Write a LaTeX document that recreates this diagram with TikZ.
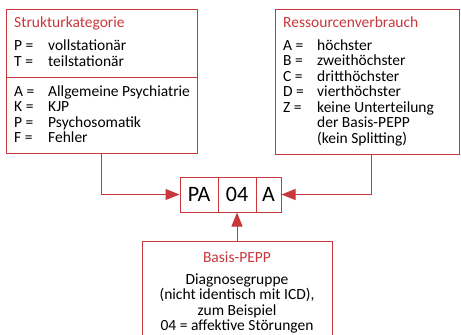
\documentclass[tikz,border=0pt]{standalone}
\usepackage{fontspec}
\setmainfont{Carlito}
\usepackage{tikz}
\usetikzlibrary{arrows.meta}
\definecolor{peppred}{RGB}{200,55,60}
\newcommand{\rcol}{peppred}
\tikzset{
  box/.style={draw=\rcol, line width=1pt, rectangle, inner sep=0pt},
  txt/.style={inner sep=0pt, font=\fontsize{15.5}{15.5}\selectfont},
  ttl/.style={txt, text=\rcol},
  codebox/.style={box, minimum height=35pt, font=\fontsize{22}{24}\selectfont},
  pfeil/.style={draw=\rcol, line width=1pt, -{Triangle[length=14pt,width=11pt]}}
}

\begin{document}
\begin{tikzpicture}[x=1pt, y=-1pt]

    \clip (0, 0) rectangle (461, 335);

    % kaesten
    \node[box, minimum width=191pt, minimum height=144pt] (strukt) at (101.5, 81) {};
    \node[box, minimum width=184.5pt, minimum height=145pt] (verbrauch) at (367.25, 81.5) {};
    \node[box, minimum width=190pt, minimum height=120pt] (basis) at (237, 301) {};
    \draw[draw=\rcol, line width=1pt] (strukt.west |- 0, 77) -- (strukt.east |- 0, 77);

    % PEPP-Code
    \node[codebox, minimum width=38pt] (pa) at (199, 194.5) {PA};
    \node[codebox, minimum width=38pt] (nr) at (237, 194.5) {04};
    \node[codebox, minimum width=25pt] (res) at (268.5, 194.5) {A};

    % Strukturkategorie
    \node[ttl, anchor=base west] (t1) at (14, 27) {Strukturkategorie};
    \node[txt, anchor=base west] (s1a) at (14, 50) {P =};
    \node[txt, anchor=base west] (s1b) at (48, 50) {vollstationär};
    \node[txt, anchor=base west] (s2a) at (14, 66) {T =};
    \node[txt, anchor=base west] (s2b) at (48, 66) {teilstationär};
    \node[txt, anchor=base west] (s3a) at (14, 96) {A =};
    \node[txt, anchor=base west] (s3b) at (48, 96) {Allgemeine Psychiatrie};
    \node[txt, anchor=base west] (s4a) at (14, 111.5) {K =};
    \node[txt, anchor=base west] (s4b) at (48, 111.5) {KJP};
    \node[txt, anchor=base west] (s5a) at (14, 127) {P =};
    \node[txt, anchor=base west] (s5b) at (48, 127) {Psychosomatik};
    \node[txt, anchor=base west] (s6a) at (14, 142) {F =};
    \node[txt, anchor=base west] (s6b) at (48, 142) {Fehler};

    % Ressourcenverbrauch
    \node[ttl, anchor=base west] (t2) at (283, 27) {Ressourcenverbrauch};
    \node[txt, anchor=base west] (r1a) at (283, 50) {A =};
    \node[txt, anchor=base west] (r1b) at (317, 50) {höchster};
    \node[txt, anchor=base west] (r2a) at (283, 65.5) {B =};
    \node[txt, anchor=base west] (r2b) at (317, 65.5) {zweithöchster};
    \node[txt, anchor=base west] (r3a) at (283, 81) {C =};
    \node[txt, anchor=base west] (r3b) at (317, 81) {dritthöchster};
    \node[txt, anchor=base west] (r4a) at (283, 96.5) {D =};
    \node[txt, anchor=base west] (r4b) at (317, 96.5) {vierthöchster};
    \node[txt, anchor=base west] (r5a) at (283, 112) {Z =};
    \node[txt, anchor=base west] (r5b) at (317, 112) {keine Unterteilung};
    \node[txt, anchor=base west] (r6b) at (317, 127.5) {der Basis-PEPP};
    \node[txt, anchor=base west] (r7b) at (317, 143) {(kein Splitting)};

    % Basis-PEPP
    \node[ttl, anchor=base] (t3) at (237, 262) {Basis-PEPP};
    \node[txt, anchor=base] (b1) at (237, 284) {Diagnosegruppe};
    \node[txt, anchor=base] (b2) at (237, 299.5) {(nicht identisch mit ICD),};
    \node[txt, anchor=base] (b3) at (237, 315) {zum Beispiel};
    \node[txt, anchor=base] (b4) at (237, 330.5) {04 = affektive Störungen};

    % pfeile
    \draw[pfeil] (strukt.south) |- (pa.west);
    \draw[pfeil] ([xshift=4.5pt]verbrauch.south) |- (res.east);
    \draw[pfeil] (basis.north) -- (nr.south);

\end{tikzpicture}
\end{document}
